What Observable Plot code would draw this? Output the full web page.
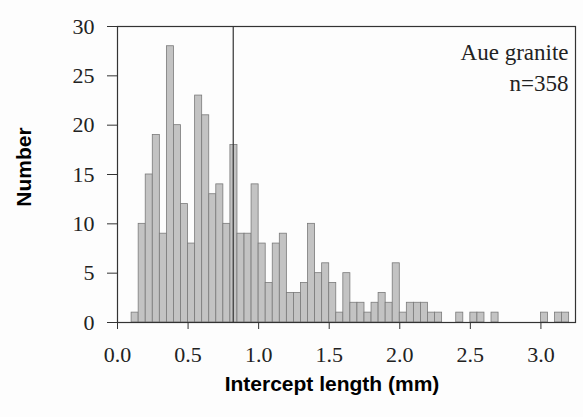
<!DOCTYPE html>
<html>
<head>
<meta charset="utf-8">
<script src="https://cdn.jsdelivr.net/npm/d3@7"></script>
<script src="https://cdn.jsdelivr.net/npm/@observablehq/plot@0.6"></script>
<style>
  html, body { margin: 0; padding: 0; background: #fdfdfd; }
  #chart { width: 583px; height: 417px; }
</style>
</head>
<body>
<div id="chart"></div>
<script>
// Bin lower edges (mm), bin width 0.05 mm
const binLo = [0.10,0.15,0.20,0.25,0.30,0.35,0.40,0.45,0.50,0.55,0.60,0.65,0.70,0.75,0.80,0.85,0.90,0.95,
  1.00,1.05,1.10,1.15,1.20,1.25,1.30,1.35,1.40,1.45,1.50,1.55,1.60,1.65,1.70,1.75,1.80,1.85,1.90,1.95,
  2.00,2.05,2.10,2.15,2.20,2.25,2.30,2.35,2.40,2.45,2.50,2.55,2.60,2.65,2.70,2.75,2.80,2.85,2.90,2.95,
  3.00,3.05,3.10,3.15,3.20];
const counts = [1,10,15,19,9,28,20,12,8,23,21,13,14,10,18,9,9,14,
  8,4,8,9,3,3,4,10,5,6,4,1,5,2,2,1,2,3,2,6,
  1,2,2,2,1,1,0,0,1,0,1,1,0,1,0,0,0,0,0,0,
  1,0,1,1,0];
const binWidth = 0.05;
const meanLine = [0.82];
const xTicks = [0,0.5,1.0,1.5,2.0,2.5,3.0];
const yTicks = [0,5,10,15,20,25,30];
const annotations = ["Aue granite", "n=358"];

const bins = binLo.map((lo, i) => ({x1: lo, x2: lo + binWidth, y: counts[i]}));

const serif = "'Liberation Serif', 'DejaVu Serif', serif";
const sans = "'Liberation Sans', Arial, sans-serif";

const chart = Plot.plot({
  width: 583,
  height: 417,
  marginLeft: 117,
  marginRight: 8,
  marginTop: 26,
  marginBottom: 95,
  style: {background: "transparent", color: "#222"},
  x: {domain: [0, 3.245]},
  y: {domain: [0, 30]},
  marks: [
    Plot.rectY(bins.filter(d => d.y > 0), {x1: "x1", x2: "x2", y: "y", fill: "#c3c3c3", stroke: "#7a7a7a", strokeWidth: 0.8}),
    Plot.ruleX(meanLine, {stroke: "#333", strokeWidth: 1.2}),
    Plot.frame({stroke: "#333", strokeWidth: 1.2}),
    Plot.axisX({ticks: xTicks, tickFormat: d3.format(".1f"), tickSize: 7, tickPadding: 17,
      fontSize: 22, fontFamily: serif, label: null, stroke: "#333"}),
    Plot.axisY({ticks: yTicks, tickSize: 10, tickPadding: 13,
      fontSize: 22, fontFamily: serif, label: null, stroke: "#333"}),
    Plot.text(annotations, {x: 3.245, y: [27.4, 24.2], dx: -7, textAnchor: "end",
      text: d => d, fontSize: 23, fontFamily: serif, fill: "#222"})
  ]
});

const svg = d3.select(chart);
svg.append("text")
  .attr("x", 0).attr("y", 0)
  .attr("transform", "translate(25,167) rotate(-90)")
  .attr("text-anchor", "middle")
  .attr("dominant-baseline", "middle")
  .style("font-family", sans).style("font-weight", "bold").style("font-size", "21px")
  .attr("fill", "#000")
  .text("Number");
svg.append("text")
  .attr("x", 332).attr("y", 391)
  .attr("text-anchor", "middle")
  .style("font-family", sans).style("font-weight", "bold").style("font-size", "21px")
  .attr("fill", "#000")
  .text("Intercept length (mm)");

document.getElementById("chart").appendChild(chart);
</script>
</body>
</html>
